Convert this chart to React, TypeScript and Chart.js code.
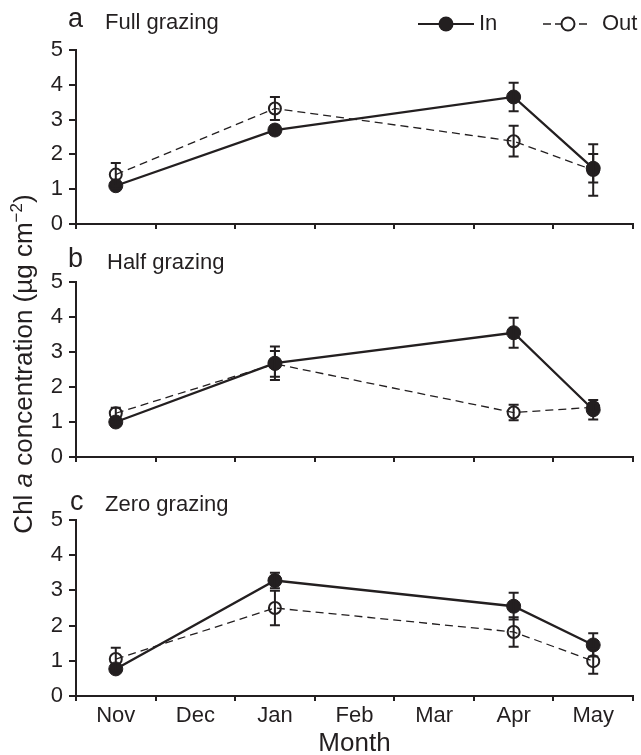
import React, { useEffect, useRef } from 'react';
import { Chart, registerables } from 'chart.js';

Chart.register(...registerables);

// ---------- data ----------
const months = ['Nov', 'Dec', 'Jan', 'Feb', 'Mar', 'Apr', 'May'];
const yTicks = [0, 1, 2, 3, 4, 5];

const fullIn = [1.1, null, 2.7, null, null, 3.65, 1.6];
const fullInErr = [0.08, null, 0.12, null, null, 0.41, 0.41];
const fullOut = [1.42, null, 3.32, null, null, 2.38, 1.55];
const fullOutErr = [0.33, null, 0.33, null, null, 0.44, 0.74];

const halfIn = [1.0, null, 2.68, null, null, 3.55, 1.35];
const halfInErr = [0.08, null, 0.48, null, null, 0.43, 0.28];
const halfOut = [1.25, null, 2.66, null, null, 1.27, 1.42];
const halfOutErr = [0.16, null, 0.37, null, null, 0.22, 0.12];

const zeroIn = [0.77, null, 3.28, null, null, 2.55, 1.45];
const zeroInErr = [0.08, null, 0.22, null, null, 0.38, 0.33];
const zeroOut = [1.05, null, 2.5, null, null, 1.82, 0.99];
const zeroOutErr = [0.32, null, 0.49, null, null, 0.42, 0.36];

// ---------- style / layout ----------
const W = 641;
const H = 755;
const PLOT_LEFT = 76;
const INK = '#231f20';
const FAM = "'Liberation Sans', Arial, Helvetica, sans-serif";

type PanelCfg = {
  letter: string;
  title: string;
  inVals: (number | null)[];
  inErr: (number | null)[];
  outVals: (number | null)[];
  outErr: (number | null)[];
  top: number;
  bottom: number;
  showLabels: boolean;
  letterPos: [number, number];
  titlePos: [number, number];
  legend: boolean;
  yTitle: boolean;
};

const panels: PanelCfg[] = [
  {
    letter: 'a', title: 'Full grazing', inVals: fullIn, inErr: fullInErr, outVals: fullOut, outErr: fullOutErr,
    top: 50, bottom: 224, showLabels: false, letterPos: [68, 27], titlePos: [105, 29], legend: true, yTitle: false,
  },
  {
    letter: 'b', title: 'Half grazing', inVals: halfIn, inErr: halfInErr, outVals: halfOut, outErr: halfOutErr,
    top: 282, bottom: 457, showLabels: false, letterPos: [68, 267], titlePos: [107, 269], legend: false, yTitle: true,
  },
  {
    letter: 'c', title: 'Zero grazing', inVals: zeroIn, inErr: zeroInErr, outVals: zeroOut, outErr: zeroOutErr,
    top: 520, bottom: 696, showLabels: true, letterPos: [70, 510], titlePos: [105, 511], legend: false, yTitle: false,
  },
];

const errorBarPlugin = {
  id: 'errorBars',
  afterDatasetsDraw(chart: any) {
    const ctx = chart.ctx;
    const ys = chart.scales.y;
    chart.data.datasets.forEach((ds: any, i: number) => {
      const meta = chart.getDatasetMeta(i);
      ds.data.forEach((v: number | null, j: number) => {
        const e = ds.errors ? ds.errors[j] : null;
        if (v == null || e == null) return;
        const pt = meta.data[j];
        if (!pt) return;
        const x = pt.x;
        const yt = ys.getPixelForValue(v + e);
        const yb = ys.getPixelForValue(v - e);
        ctx.save();
        ctx.strokeStyle = INK;
        ctx.lineWidth = 2;
        ctx.setLineDash([]);
        ctx.beginPath();
        ctx.moveTo(x, yt);
        ctx.lineTo(x, yb);
        ctx.moveTo(x - 5, yt);
        ctx.lineTo(x + 5, yt);
        ctx.moveTo(x - 5, yb);
        ctx.lineTo(x + 5, yb);
        ctx.stroke();
        ctx.restore();
      });
    });
  },
};

function drawYTitle(ctx: CanvasRenderingContext2D) {
  const parts = [
    { t: 'Chl ', f: `26px ${FAM}`, dy: 0 },
    { t: 'a', f: `italic 26px ${FAM}`, dy: 0 },
    { t: ' concentration (µg cm', f: `26px ${FAM}`, dy: 0 },
    { t: '−2', f: `17px ${FAM}`, dy: -10 },
    { t: ')', f: `26px ${FAM}`, dy: 0 },
  ];
  ctx.save();
  ctx.translate(32, 364);
  ctx.rotate(-Math.PI / 2);
  let total = 0;
  parts.forEach((p) => {
    ctx.font = p.f;
    total += ctx.measureText(p.t).width;
  });
  let x = -total / 2;
  ctx.fillStyle = INK;
  ctx.textBaseline = 'alphabetic';
  ctx.textAlign = 'left';
  parts.forEach((p) => {
    ctx.font = p.f;
    ctx.fillText(p.t, x, p.dy);
    x += ctx.measureText(p.t).width;
  });
  ctx.restore();
}

function drawLegend(ctx: CanvasRenderingContext2D) {
  const y = 24;
  ctx.save();
  ctx.strokeStyle = INK;
  ctx.fillStyle = INK;
  // In
  ctx.lineWidth = 2.2;
  ctx.setLineDash([]);
  ctx.beginPath();
  ctx.moveTo(418, y);
  ctx.lineTo(474, y);
  ctx.stroke();
  ctx.beginPath();
  ctx.arc(446, y, 7.5, 0, Math.PI * 2);
  ctx.fill();
  ctx.font = `22px ${FAM}`;
  ctx.textBaseline = 'middle';
  ctx.textAlign = 'left';
  ctx.fillText('In', 479, y);
  // Out
  ctx.lineWidth = 1.4;
  ctx.setLineDash([8, 4]);
  ctx.beginPath();
  ctx.moveTo(543, y);
  ctx.lineTo(587, y);
  ctx.stroke();
  ctx.setLineDash([]);
  ctx.beginPath();
  ctx.arc(568, y, 6.5, 0, Math.PI * 2);
  ctx.fillStyle = '#ffffff';
  ctx.fill();
  ctx.lineWidth = 2;
  ctx.stroke();
  ctx.fillStyle = INK;
  ctx.fillText('Out', 602, y);
  ctx.restore();
}

function makePanelPlugin(p: PanelCfg) {
  return {
    id: 'panelText' + p.letter,
    afterDraw(chart: any) {
      const ctx = chart.ctx as CanvasRenderingContext2D;
      ctx.save();
      ctx.fillStyle = INK;
      ctx.textAlign = 'left';
      ctx.textBaseline = 'alphabetic';
      ctx.font = `27px ${FAM}`;
      ctx.fillText(p.letter, p.letterPos[0], p.letterPos[1]);
      ctx.font = `22px ${FAM}`;
      ctx.fillText(p.title, p.titlePos[0], p.titlePos[1]);
      ctx.restore();
      if (p.legend) drawLegend(ctx);
      if (p.yTitle) drawYTitle(ctx);
    },
  };
}

function buildConfig(p: PanelCfg): any {
  const xH = p.showLabels ? H - p.bottom : 10;
  return {
    type: 'line',
    data: {
      labels: months,
      datasets: [
        {
          label: 'In',
          data: p.inVals,
          errors: p.inErr,
          borderColor: INK,
          borderWidth: 2.3,
          pointRadius: 7,
          pointBorderWidth: 1,
          pointBackgroundColor: INK,
          pointBorderColor: INK,
          spanGaps: true,
          fill: false,
          tension: 0,
        },
        {
          label: 'Out',
          data: p.outVals,
          errors: p.outErr,
          borderColor: INK,
          borderWidth: 1.3,
          borderDash: [8, 5],
          pointRadius: 6,
          pointBorderWidth: 2,
          pointBackgroundColor: 'rgba(0,0,0,0)',
          pointBorderColor: INK,
          spanGaps: true,
          fill: false,
          tension: 0,
        },
      ],
    },
    options: {
      animation: false,
      responsive: false,
      maintainAspectRatio: false,
      devicePixelRatio: 1,
      events: [],
      layout: {
        padding: { top: p.top, bottom: H - p.bottom - xH, left: 0, right: 0 },
      },
      plugins: {
        legend: { display: false },
        tooltip: { enabled: false },
        title: { display: false },
      },
      scales: {
        x: {
          type: 'category',
          offset: true,
          grid: {
            offset: true,
            drawOnChartArea: false,
            drawTicks: true,
            tickLength: 5,
            color: INK,
            lineWidth: 2,
          },
          border: { display: true, color: INK, width: 2 },
          ticks: {
            display: p.showLabels,
            color: INK,
            font: { family: FAM, size: 22 },
            padding: 2,
            autoSkip: false,
            maxRotation: 0,
            minRotation: 0,
          },
          title: {
            display: p.showLabels,
            text: 'Month',
            color: INK,
            font: { family: FAM, size: 26, lineHeight: 0.85 },
            padding: { top: 0, bottom: 0 },
          },
          afterFit: (s: any) => {
            s.height = xH;
          },
        },
        y: {
          type: 'linear',
          min: yTicks[0],
          max: yTicks[yTicks.length - 1],
          ticks: {
            stepSize: 1,
            color: INK,
            font: { family: FAM, size: 22 },
            padding: 6,
          },
          grid: {
            drawOnChartArea: false,
            drawTicks: true,
            tickLength: 7,
            color: INK,
            lineWidth: 2,
          },
          border: { display: true, color: INK, width: 2 },
          afterFit: (s: any) => {
            s.width = PLOT_LEFT;
          },
        },
      },
    },
    plugins: [errorBarPlugin, makePanelPlugin(p)],
  };
}

function PanelCanvas({ cfg }: { cfg: PanelCfg }) {
  const ref = useRef<HTMLCanvasElement | null>(null);
  useEffect(() => {
    if (!ref.current) return;
    const chart = new Chart(ref.current, buildConfig(cfg));
    return () => chart.destroy();
  }, [cfg]);
  return (
    <canvas
      ref={ref}
      width={W}
      height={H}
      style={{ position: 'absolute', left: 0, top: 0, width: W, height: H }}
    />
  );
}

export default function App() {
  return (
    <div style={{ position: 'fixed', left: 0, top: 0, width: W, height: H, background: '#ffffff' }}>
      {panels.map((p) => (
        <PanelCanvas key={p.letter} cfg={p} />
      ))}
    </div>
  );
}
